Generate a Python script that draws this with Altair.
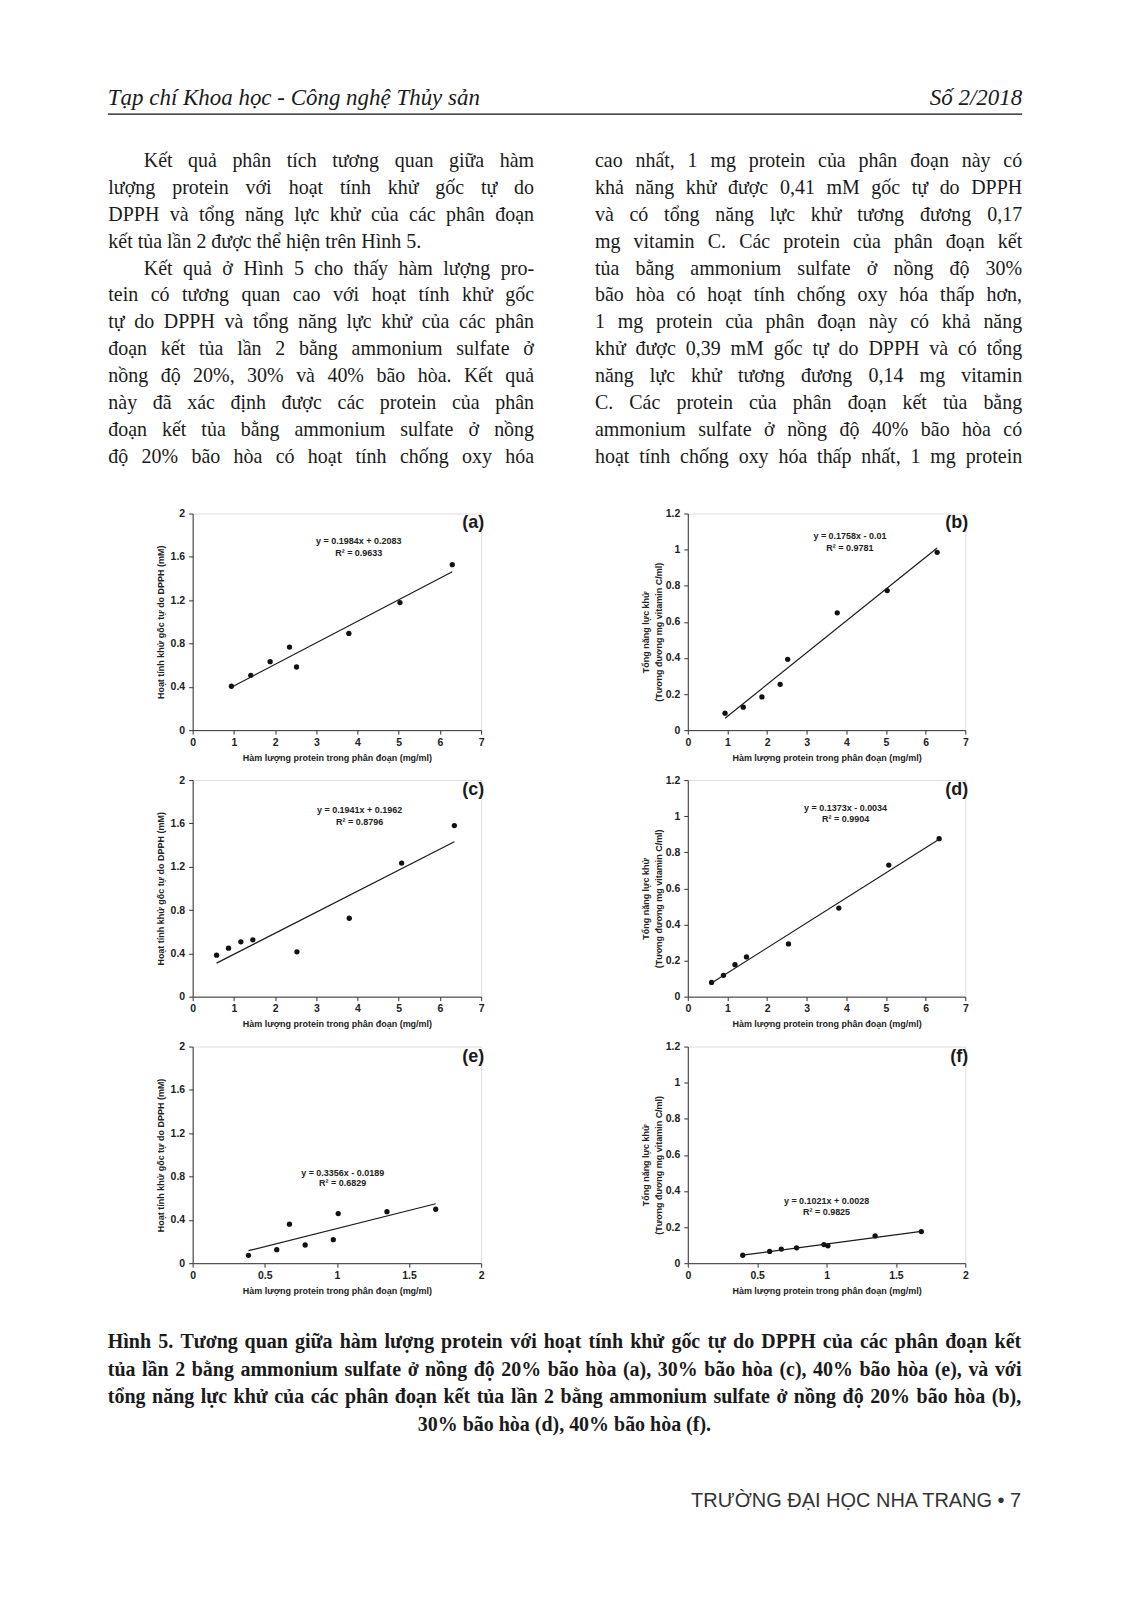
import unicodedata
import altair as alt
import pandas as pd

# ---------------- data ----------------
a_x = [0.94, 1.41, 1.88, 2.35, 2.52, 3.79, 5.03, 6.30]
a_y = [0.405, 0.506, 0.632, 0.767, 0.583, 0.893, 1.178, 1.528]
b_x = [0.94, 1.40, 1.87, 2.33, 2.52, 3.77, 5.03, 6.29]
b_y = [0.094, 0.127, 0.184, 0.254, 0.392, 0.650, 0.773, 0.985]
c_x = [0.58, 0.87, 1.17, 1.46, 2.53, 3.80, 5.07, 6.35]
c_y = [0.383, 0.448, 0.506, 0.525, 0.414, 0.724, 1.233, 1.580]
d_x = [0.60, 0.90, 1.19, 1.48, 2.54, 3.81, 5.07, 6.34]
d_y = [0.079, 0.118, 0.177, 0.220, 0.292, 0.491, 0.729, 0.875]
e_x = [0.387, 0.583, 0.671, 0.780, 0.975, 1.009, 1.347, 1.685]
e_y = [0.073, 0.125, 0.360, 0.168, 0.217, 0.458, 0.476, 0.498]
f_x = [0.396, 0.590, 0.674, 0.784, 0.981, 1.010, 1.350, 1.683]
f_y = [0.044, 0.065, 0.078, 0.085, 0.103, 0.096, 0.151, 0.175]

equations = ["y = 0.1984x + 0.2083", "y = 0.1758x - 0.01", "y = 0.1941x + 0.1962",
             "y = 0.1373x - 0.0034", "y = 0.3356x - 0.0189", "y = 0.1021x + 0.0028"]
r2_labels = ["R² = 0.9633", "R² = 0.9781", "R² = 0.8796",
             "R² = 0.9904", "R² = 0.6829", "R² = 0.9825"]
panel_letters = ["(a)", "(b)", "(c)", "(d)", "(e)", "(f)"]

x_ticks_wide = [0, 1, 2, 3, 4, 5, 6, 7]
x_ticks_narrow = [0, 0.5, 1, 1.5, 2]
y_ticks_dpph = [0, 0.4, 0.8, 1.2, 1.6, 2]
y_ticks_frap = [0, 0.2, 0.4, 0.6, 0.8, 1, 1.2]

x_title = "Hàm lượng protein trong phân đoạn (mg/ml)"
y_title_dpph = "Hoạt tính khử gốc tự do DPPH (mM)"
y_title_frap = ["Tổng năng lực khử", "(Tương đương mg vitamin C/ml)"]

header_left = "Tạp chí Khoa học - Công nghệ Thủy sản"
header_right = "Số 2/2018"
body_left = [
    "Kết quả phân tích tương quan giữa hàm",
    "lượng protein với hoạt tính khử gốc tự do",
    "DPPH và tổng năng lực khử của các phân đoạn",
    "kết tủa lần 2 được thể hiện trên Hình 5.",
    "Kết quả ở Hình 5 cho thấy hàm lượng pro-",
    "tein có tương quan cao với hoạt tính khử gốc",
    "tự do DPPH và tổng năng lực khử của các phân",
    "đoạn kết tủa lần 2 bằng ammonium sulfate ở",
    "nồng độ 20%, 30% và 40% bão hòa. Kết quả",
    "này đã xác định được các protein của phân",
    "đoạn kết tủa bằng ammonium sulfate ở nồng",
    "độ 20% bão hòa có hoạt tính chống oxy hóa",
]
body_right = [
    "cao nhất, 1 mg protein của phân đoạn này có",
    "khả năng khử được 0,41 mM gốc tự do DPPH",
    "và có tổng năng lực khử tương đương 0,17",
    "mg vitamin C. Các protein của phân đoạn kết",
    "tủa bằng ammonium sulfate ở nồng độ 30%",
    "bão hòa có hoạt tính chống oxy hóa thấp hơn,",
    "1 mg protein của phân đoạn này có khả năng",
    "khử được 0,39 mM gốc tự do DPPH và có tổng",
    "năng lực khử tương đương 0,14 mg vitamin",
    "C. Các protein của phân đoạn kết tủa bằng",
    "ammonium sulfate ở nồng độ 40% bão hòa có",
    "hoạt tính chống oxy hóa thấp nhất, 1 mg protein",
]
caption = [
    "Hình 5. Tương quan giữa hàm lượng protein với hoạt tính khử gốc tự do DPPH của các phân đoạn kết",
    "tủa lần 2 bằng ammonium sulfate ở nồng độ 20% bão hòa (a), 30% bão hòa (c), 40% bão hòa (e), và với",
    "tổng năng lực khử của các phân đoạn kết tủa lần 2 bằng ammonium sulfate ở nồng độ 20% bão hòa (b),",
    "30% bão hòa (d), 40% bão hòa (f).",
]
footer = "TRƯỜNG ĐẠI HỌC NHA TRANG • 7"

# ---------------- layout constants ----------------
PAGE_W, PAGE_H = 1133, 1606
OX, OY = 192, 512          # page position of panel (a) plot area
W_LEFT, W_RIGHT, H = 289, 278, 217
SANS = "Liberation Sans"
SERIF = "Liberation Serif"
INK = "#222222"
TEXT_INK = "#1a1a1a"

# equation anchor (data coords) per panel
eq_pos = [(4.03, 1.745, 1.638), (4.09, 1.077, 1.009), (4.05, 1.72, 1.61),
          (3.98, 1.043, 0.984), (1.04, 0.834, 0.736), (1.00, 0.347, 0.282)]

# ---------------- Times-metric advance widths (per 1000 em) for justification ----------------
_REG = dict(zip("abcdefghijklmnopqrstuvwxyz",
                [444, 500, 444, 500, 444, 333, 500, 500, 278, 278, 500, 278, 778, 500, 500,
                 500, 500, 333, 389, 278, 500, 500, 722, 500, 500, 444]))
_REG.update(zip("ABCDEFGHIJKLMNOPQRSTUVWXYZ",
                [722, 667, 667, 722, 611, 556, 722, 722, 333, 389, 722, 611, 889, 722, 722,
                 556, 722, 667, 556, 611, 722, 722, 944, 722, 722, 611]))
_REG.update({" ": 250, ",": 250, ".": 250, "-": 333, "%": 833, "(": 333, ")": 333,
             "/": 278, ":": 278})
_BOLD = dict(zip("abcdefghijklmnopqrstuvwxyz",
                 [500, 556, 444, 556, 444, 333, 500, 556, 278, 333, 556, 278, 833, 556, 500,
                  556, 556, 444, 389, 333, 556, 500, 722, 500, 500, 444]))
_BOLD.update(zip("ABCDEFGHIJKLMNOPQRSTUVWXYZ",
                 [722, 667, 722, 722, 667, 611, 778, 778, 389, 500, 778, 667, 944, 722, 778,
                  611, 778, 722, 556, 667, 722, 722, 1000, 722, 722, 667]))
_BOLD.update({" ": 250, ",": 250, ".": 250, "-": 333, "%": 1000, "(": 333, ")": 333,
              "/": 278, ":": 333})


def text_width(s, size, bold=False):
    table = _BOLD if bold else _REG
    total = 0.0
    for ch in s:
        if ch in "đ":
            base, extra = "d", 0
        elif ch in "Đ":
            base, extra = "D", 0
        else:
            dec = unicodedata.normalize("NFD", ch)
            base = dec[0]
            extra = 40 if "\u031b" in dec else 0
        if base.isdigit():
            w = 500
        else:
            w = table.get(base, 500)
        total += w + extra
    return total * size / 1000.0


def place_words(lines, x_left, x_right, base_y, lh, size, bold, justify, indents=None,
                center=None):
    rows = []
    for j, line in enumerate(lines):
        y = base_y[j] if isinstance(base_y, list) else base_y + lh * j
        x0 = x_left + (indents.get(j, 0) if indents else 0)
        if center is not None and j in center:
            w = text_width(line, size, bold)
            rows.append({"w": line, "px": (x_left + x_right) / 2 - w / 2 - OX, "py": y - OY})
            continue
        if not justify[j]:
            rows.append({"w": line, "px": x0 - OX, "py": y - OY})
            continue
        words = line.split(" ")
        widths = [text_width(w, size, bold) for w in words]
        gap = (x_right - x0 - sum(widths)) / (len(words) - 1)
        x = x0
        for w, ww in zip(words, widths):
            rows.append({"w": w, "px": x - OX, "py": y - OY})
            x += ww + gap
    return pd.DataFrame(rows)


def panel(i, xs, ys, left, narrow):
    W = W_LEFT if left else W_RIGHT
    xdom = [0, 2] if narrow else [0, 7]
    xvals = x_ticks_narrow if narrow else x_ticks_wide
    ydom = [0, 2] if left else [0, 1.2]
    yvals = y_ticks_dpph if left else y_ticks_frap

    xaxis = alt.Axis(values=xvals, format="~g", title=x_title, labelFlush=False,
                     labelPadding=3, titleY=27, titleBaseline="middle",
                     titleAlign="center", titleX=W / 2, zindex=2)
    if left:
        yaxis = alt.Axis(values=yvals, format="~g", title=y_title_dpph,
                         labelPadding=4, titleX=-32, titleY=H / 2,
                         titleBaseline="middle", titleAlign="center", titleAngle=270,
                         zindex=2)
    else:
        yaxis = alt.Axis(values=yvals, format="~g", title=y_title_frap,
                         labelPadding=4, titleX=-42, titleY=H / 2 + 10,
                         titleBaseline="middle", titleAlign="center", titleAngle=270,
                         titleLineHeight=13, zindex=2)
    xs_ = alt.Scale(domain=xdom, nice=False, zero=False)
    ys_ = alt.Scale(domain=ydom, nice=False, zero=False)
    X = alt.X("x:Q", scale=xs_, axis=xaxis)
    Y = alt.Y("y:Q", scale=ys_, axis=yaxis)

    df = pd.DataFrame({"x": xs, "y": ys})
    base = alt.Chart(df)
    pts = base.mark_circle(size=28, color="#111111", opacity=1).encode(x=X, y=Y)
    fit = base.transform_regression("x", "y").mark_line(
        color="#1a1a1a", strokeWidth=1.2).encode(x=X, y=Y)
    ex, ey1, ey2 = eq_pos[i]
    eqdf = pd.DataFrame({"x": [ex, ex], "y": [ey1, ey2], "t": [equations[i], r2_labels[i]]})
    eq = alt.Chart(eqdf).mark_text(font=SANS, fontSize=9, fontWeight="bold",
                                   color=INK, baseline="middle", align="center").encode(
        x=X, y=Y, text="t:N")
    lab = alt.Chart(pd.DataFrame({"t": [panel_letters[i]]})).mark_text(
        font=SANS, fontSize=18, fontWeight="bold", color="#1a1a1a",
        align="right", baseline="middle").encode(
        x=alt.value(W + 3), y=alt.value(10), text="t:N")
    return [pts, fit, eq, lab], W


def txt(s, x, y, size, **kw):
    return alt.Chart(pd.DataFrame({"t": [s]})).mark_text(fontSize=size, **kw).encode(
        x=alt.value(x - OX), y=alt.value(y - OY), text="t:N")


def word_layer(df, size, bold):
    kw = {"fontWeight": "bold"} if bold else {}
    return alt.Chart(df).mark_text(font=SERIF, fontSize=size, align="left",
                                   baseline="alphabetic", color=TEXT_INK, **kw).encode(
        x=alt.X("px:Q", scale=None, axis=None),
        y=alt.Y("py:Q", scale=None, axis=None),
        text="w:N")


# ---------------- page (text) layers, placed relative to panel (a) ----------------
page = []
# invisible page frame: fixes the drawing's bounds to the full page
page.append(alt.Chart(pd.DataFrame({"k": [0]})).mark_rect(color="white", opacity=0).encode(
    x=alt.value(-OX), x2=alt.value(PAGE_W - OX),
    y=alt.value(-OY), y2=alt.value(PAGE_H - OY)))
page.append(txt(header_left, 107, 103, 23, font=SERIF, fontStyle="italic",
                align="left", baseline="alphabetic", color=TEXT_INK))
page.append(txt(header_right, 1023, 103, 23, font=SERIF, fontStyle="italic",
                align="right", baseline="alphabetic", color=TEXT_INK))
page.append(alt.Chart(pd.DataFrame({"k": [0]})).mark_rule(color="#111111", strokeWidth=1.3).encode(
    x=alt.value(107 - OX), x2=alt.value(1023 - OX), y=alt.value(112 - OY)))

BASE0, LH = 165, 26.9
left_just = [True] * 12
left_just[3] = False
body_df = pd.concat([
    place_words(body_left, 107.5, 534, BASE0, LH, 20, False, left_just, indents={0: 35.5, 4: 35.5}),
    place_words(body_right, 595, 1023, BASE0, LH, 20, False, [True] * 12),
], ignore_index=True)
page.append(word_layer(body_df, 20, False))

cap_df = place_words(caption, 107, 1022, [1348, 1376, 1403, 1431], 0, 20, True,
                     [True, True, True, False], center={3})
page.append(word_layer(cap_df, 20, True))
page.append(txt(footer, 1022, 1507, 20, font=SANS, align="right",
                baseline="alphabetic", color="#333333"))

# ---------------- panels ----------------
specs = [(a_x, a_y, True, False), (b_x, b_y, False, False),
         (c_x, c_y, True, False), (d_x, d_y, False, False),
         (e_x, e_y, True, True), (f_x, f_y, False, True)]
charts = []
for i, (xs, ys, left, narrow) in enumerate(specs):
    layers, W = panel(i, xs, ys, left, narrow)
    if i == 0:
        layers = layers + page
    charts.append(alt.layer(*layers).properties(width=W, height=H))

chart = alt.concat(*charts, columns=2, spacing={"row": 50, "column": 207},
                   bounds="flush").properties(padding=0).configure_view(
    stroke=None).configure(background="white").configure_axis(
    grid=False, domainColor="#333333", domainWidth=1, tickColor="#333333",
    tickSize=4, tickWidth=1, labelFont=SANS, labelFontWeight="bold",
    labelFontSize=10.5, labelColor=INK, titleFont=SANS, titleFontWeight="bold",
    titleFontSize=9, titleColor=INK, labelOverlap=False)

chart.save("out.html", embed_options={"renderer": "svg", "actions": False})
